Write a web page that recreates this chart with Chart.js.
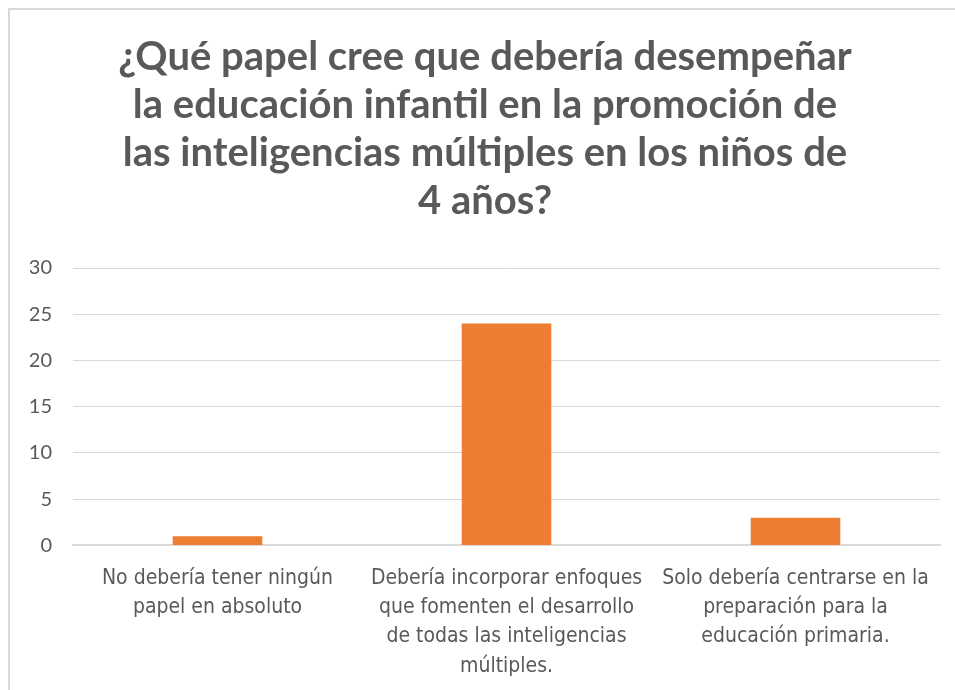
<!DOCTYPE html>
<html>
<head>
<meta charset="utf-8">
<script src="https://cdn.jsdelivr.net/npm/chart.js@4"></script>
<style>
  body { margin: 0; background: #fff; overflow: hidden; }
  #frame { position: absolute; left: 8px; top: 8px; width: 990px; height: 740px; border: 2px solid #d9d9d9; box-sizing: border-box; }
  #myChart { position: absolute; left: 10px; top: 10px; }
</style>
</head>
<body>
<div id="frame"></div>
<canvas id="myChart" width="960" height="701"></canvas>
<script>
// data
const titleLines = [
  '¿Qué papel cree que debería desempeñar',
  'la educación infantil en la promoción de',
  'las inteligencias múltiples en los niños de',
  '4 años?'
];
const labels = [
  ['No debería tener ningún', 'papel en absoluto'],
  ['Debería incorporar enfoques', 'que fomenten el desarrollo', 'de todas las inteligencias', 'múltiples.'],
  ['Solo debería centrarse en la', 'preparación para la', 'educación primaria.']
];
const values = [1, 24, 3];
const yTicks = { min: 0, max: 30, step: 5 };

const grey = '#595959';

const data = {
  labels: labels,
  datasets: [{
    label: 'Respuestas',
    data: values,
    backgroundColor: '#ED7D31',
    borderWidth: 0,
    barPercentage: 0.31,
    categoryPercentage: 1
  }]
};

const config = {
  type: 'bar',
  data: data,
  options: {
    responsive: false,
    animation: false,
    layout: { padding: { left: 20, right: 30, top: 0, bottom: 12 } },
    plugins: {
      legend: { display: false },
      tooltip: { enabled: false },
      title: {
        display: true,
        text: titleLines,
        color: grey,
        font: { family: 'Lato', size: 40, weight: 'bold', lineHeight: 1.2 },
        padding: { top: 23, bottom: 43 }
      }
    },
    scales: {
      x: {
        grid: { display: false, drawTicks: false },
        border: { color: '#d9d9d9', width: 2 },
        ticks: {
          color: grey,
          padding: 18,
          maxRotation: 0,
          autoSkip: false,
          font: { family: "'Liberation Sans Narrow', 'DejaVu Sans Condensed', sans-serif", size: 21, lineHeight: 1.4 }
        }
      },
      y: {
        min: yTicks.min,
        max: yTicks.max,
        afterFit: (axis) => { axis.width = 43; },
        grid: { color: '#d9d9d9', drawTicks: false },
        border: { display: false },
        ticks: {
          stepSize: yTicks.step,
          color: grey,
          padding: 21,
          font: { family: 'Lato', size: 20 }
        }
      }
    }
  }
};

const chart = new Chart(document.getElementById('myChart'), config);
</script>
</body>
</html>
